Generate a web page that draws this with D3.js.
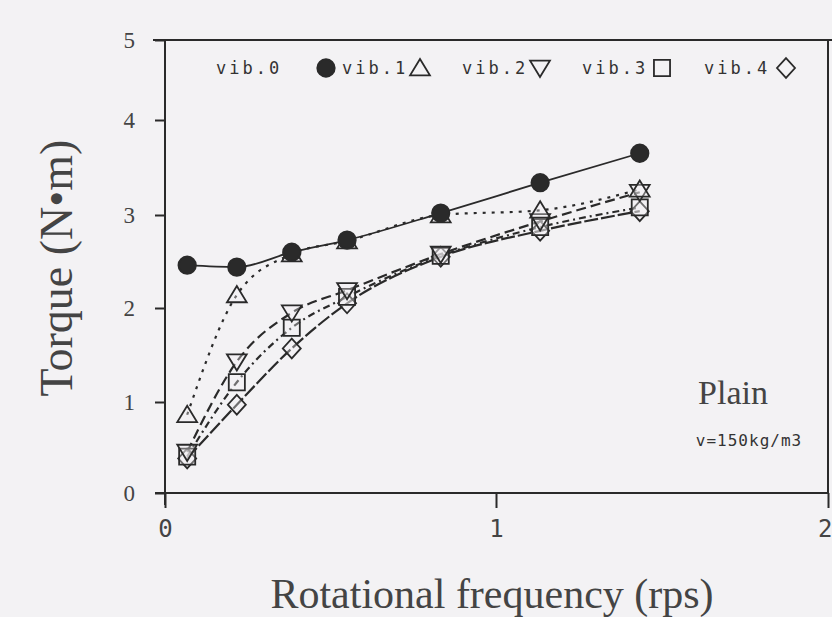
<!DOCTYPE html>
<html>
<head>
<meta charset="utf-8">
<script src="https://cdn.jsdelivr.net/npm/d3@7"></script>
<style>
  html, body { margin: 0; padding: 0; background: #f3f2f4; }
  svg { display: block; }
</style>
</head>
<body>
<svg id="chart" width="832" height="617"></svg>
<script>
// rotational frequency (rps) of each measured point
const freq = [0.067, 0.217, 0.383, 0.55, 0.833, 1.133, 1.433];

// torque (N·m) per vibration level
const vib0 = [2.46, 2.44, 2.60, 2.73, 3.02, 3.34, 3.65];
const vib1 = [0.86, 2.14, 2.58, 2.72, 3.00, 3.05, 3.27];
const vib2 = [0.45, 1.43, 1.95, 2.19, 2.58, 2.93, 3.24];
const vib3 = [0.40, 1.21, 1.79, 2.12, 2.56, 2.87, 3.08];
const vib4 = [0.38, 0.97, 1.57, 2.05, 2.55, 2.83, 3.04];

const seriesNames = ["vib.0", "vib.1", "vib.2", "vib.3", "vib.4"];
const xTicks = [0, 1, 2];
const yTicks = [0, 1, 2, 3, 4, 5];

const svg = d3.select("#chart");
const ink = "#2a2a2a";
const paper = "#f3f2f4";

// scanned figure is slightly uneven, so the scales are piecewise
const x = d3.scaleLinear().domain([0, 1, 2]).range([165, 496, 828]);
const y = d3.scaleLinear().domain([0, 1, 2, 3, 4, 5]).range([493, 402, 308, 215, 120, 40]);

const series = [
    { name: seriesNames[0], values: vib0, symbol: "circle", filled: true, dash: null },
    { name: seriesNames[1], values: vib1, symbol: "up", filled: false, dash: "3,6" },
    { name: seriesNames[2], values: vib2, symbol: "down", filled: false, dash: "10,5" },
    { name: seriesNames[3], values: vib3, symbol: "square", filled: false, dash: "7,4,2,4" },
    { name: seriesNames[4], values: vib4, symbol: "diamond", filled: false, dash: "14,3" }
];

function symbolPath(kind, s) {
    if (kind === "circle") return d3.symbol(d3.symbolCircle, s * s * 0.74)();
    if (kind === "square") return d3.symbol(d3.symbolSquare, s * s * 0.8)();
    if (kind === "up") {
        const h = s * 0.9;
        return `M0,${-h * 0.55}L${s * 0.55},${h * 0.45}L${-s * 0.55},${h * 0.45}Z`;
    }
    if (kind === "down") {
        const h = s * 0.9;
        return `M0,${h * 0.55}L${s * 0.55},${-h * 0.45}L${-s * 0.55},${-h * 0.45}Z`;
    }
    // diamond
    return `M0,${-s * 0.55}L${s * 0.5},0L0,${s * 0.55}L${-s * 0.5},0Z`;
}

// frame
const g = svg.append("g");
g.append("line").attr("x1", 153).attr("x2", 832).attr("y1", y(5)).attr("y2", y(5))
    .attr("stroke", ink).attr("stroke-width", 2);
g.append("line").attr("x1", 828).attr("x2", 828).attr("y1", y(5)).attr("y2", y(0))
    .attr("stroke", ink).attr("stroke-width", 2);

// axes
const yAxis = g.append("g").attr("transform", `translate(${x(0)},0)`)
    .call(d3.axisLeft(y).tickValues(yTicks).tickSize(10).tickPadding(20).tickFormat(d3.format("d")));
const xAxis = g.append("g").attr("transform", `translate(0,${y(0)})`)
    .call(d3.axisBottom(x).tickValues(xTicks).tickSize(15).tickPadding(12).tickFormat(d3.format("d")));

[yAxis, xAxis].forEach(ax => {
    ax.select(".domain").attr("stroke", ink).attr("stroke-width", 2);
    ax.selectAll(".tick line").attr("stroke", ink).attr("stroke-width", 2);
});
yAxis.select(".domain").attr("d", `M0,${y(5)}V${y(0) + 12}`);
xAxis.select(".domain").attr("d", `M${x(0) - 10},0H${x(2)}`);
yAxis.selectAll(".tick text")
    .attr("font-family", "'Liberation Serif', 'DejaVu Serif', serif")
    .attr("font-size", 23).attr("fill", "#444");
xAxis.selectAll(".tick text")
    .attr("font-family", "'DejaVu Sans Mono', monospace")
    .attr("font-size", 24).attr("fill", "#444");
// last label sits at the page edge: keep it whole
xAxis.selectAll(".tick text").filter(d => d === 2)
    .attr("text-anchor", "end").attr("dx", 4);

// curves
const line = d3.line()
    .x((d, i) => x(freq[i]))
    .y(d => y(d))
    .curve(d3.curveMonotoneX);

const plot = svg.append("g");
series.forEach(s => {
    plot.append("path")
        .datum(s.values)
        .attr("d", line)
        .attr("fill", "none")
        .attr("stroke", ink)
        .attr("stroke-width", s.dash ? 2.2 : 1.8)
        .attr("stroke-dasharray", s.dash);
});

// markers (open ones drawn first, filled dots on top)
[...series].reverse().forEach(s => {
    plot.selectAll(null)
        .data(s.values)
        .enter()
        .append("path")
        .attr("transform", (d, i) => `translate(${x(freq[i])},${y(d)})`)
        .attr("d", symbolPath(s.symbol, 18))
        .attr("fill", s.filled ? ink : paper)
        .attr("fill-opacity", s.filled ? 1 : 0.35)
        .attr("stroke", ink)
        .attr("stroke-width", 1.8);
});

// legend across the top
const legendText = [216, 342, 462, 582, 704];
const legendSym = [326, 420, 540, 662, 786];
const legend = svg.append("g");
series.forEach((s, i) => {
    legend.append("text")
        .attr("x", legendText[i])
        .attr("y", 74)
        .attr("font-family", "'DejaVu Sans Mono', monospace")
        .attr("font-size", 17)
        .attr("letter-spacing", 3)
        .attr("fill", "#333")
        .text(s.name);
    legend.append("path")
        .attr("transform", `translate(${legendSym[i]},68)`)
        .attr("d", symbolPath(s.symbol, 18))
        .attr("fill", s.filled ? ink : "none")
        .attr("stroke", ink)
        .attr("stroke-width", 1.8);
});

// annotation
svg.append("text")
    .attr("x", 733).attr("y", 404)
    .attr("text-anchor", "middle")
    .attr("font-family", "'Liberation Serif', serif")
    .attr("font-size", 34).attr("fill", "#444")
    .text("Plain");
svg.append("text")
    .attr("x", 749).attr("y", 446)
    .attr("text-anchor", "middle")
    .attr("font-family", "'DejaVu Sans Mono', monospace")
    .attr("font-size", 16).attr("letter-spacing", 1)
    .attr("fill", "#333")
    .text("v=150kg/m3");

// axis titles
svg.append("text")
    .attr("x", 492).attr("y", 608)
    .attr("text-anchor", "middle")
    .attr("font-family", "'Liberation Serif', serif")
    .attr("font-size", 42).attr("fill", "#444")
    .text("Rotational frequency (rps)");
svg.append("text")
    .attr("transform", "translate(72,268) rotate(-90)")
    .attr("text-anchor", "middle")
    .attr("font-family", "'Liberation Serif', serif")
    .attr("font-size", 46).attr("fill", "#444")
    .text("Torque (N\u2022m)");
</script>
</body>
</html>
